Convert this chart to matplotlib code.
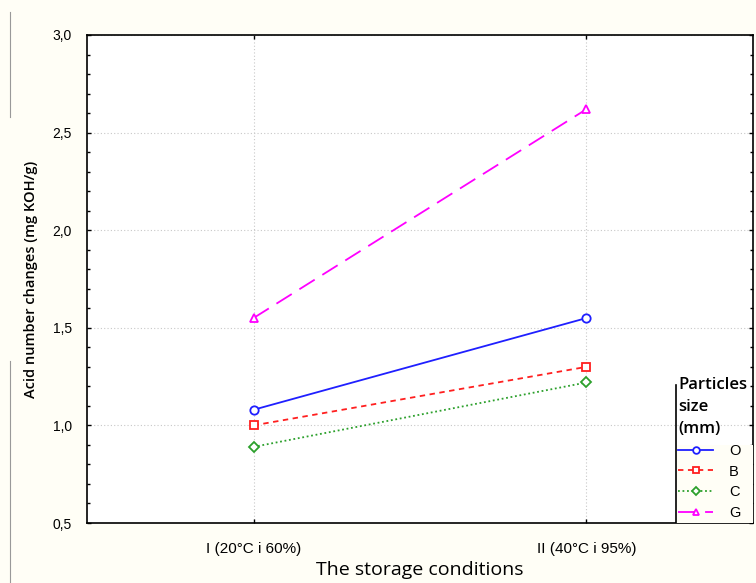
import numpy as np
import matplotlib.pyplot as plt
from matplotlib.lines import Line2D
from matplotlib.patches import Rectangle
from matplotlib.ticker import MultipleLocator, FuncFormatter

conditions = ["I (20°C i 60%)", "II (40°C i 95%)"]
sizes = ["O", "B", "C", "G"]
val_O = [1.08, 1.55]
val_B = [1.00, 1.30]
val_C = [0.89, 1.22]
val_G = [1.55, 2.62]

cream = '#fffef6'
fig = plt.figure(figsize=(7.56, 5.83), dpi=100, facecolor=cream)
ax = fig.add_axes([0.1151, 0.1029, 0.8809, 0.8371])
ax.set_facecolor('white')

x = np.arange(len(conditions))
ax.plot(x, val_O, color='#1f1fff', lw=1.3, ls='-', marker='o', ms=6,
        mfc='white', mec='#1f1fff', mew=1.3, label=sizes[0])
ax.plot(x, val_B, color='#ff1f1f', lw=1.3, ls=(0, (3, 2.5)), marker='s', ms=6,
        mfc='white', mec='#ff1f1f', mew=1.3, label=sizes[1])
ax.plot(x, val_C, color='#2ca02c', lw=1.3, ls=(0, (1, 1.5)), marker='D', ms=5,
        mfc='white', mec='#2ca02c', mew=1.3, label=sizes[2])
ax.plot(x, val_G, color='#ff00ff', lw=1.3, ls=(0, (10, 5)), marker='^', ms=6,
        mfc='white', mec='#ff00ff', mew=1.3, label=sizes[3])

ax.set_xlim(-0.5, 1.5)
ax.set_ylim(0.5, 3.0)
ax.set_xticks(x)
ax.set_xticklabels(conditions, family='Liberation Sans', fontsize=11)
ax.yaxis.set_major_locator(MultipleLocator(0.5))
ax.yaxis.set_minor_locator(MultipleLocator(0.1))
ax.yaxis.set_major_formatter(FuncFormatter(lambda v, p: ('%.1f' % v).replace('.', ',')))
for lab in ax.get_yticklabels():
    lab.set_family('Liberation Sans')
    lab.set_fontsize(10)
ax.tick_params(axis='both', which='both', direction='in', top=True, right=True,
               width=1.0, color='black')
ax.tick_params(axis='y', which='major', length=3, pad=11)
ax.tick_params(axis='y', which='minor', length=2)
ax.tick_params(axis='x', length=3, pad=14)
for s in ax.spines.values():
    s.set_linewidth(1.2)
ax.grid(True, color='#c8c8c8', ls=(0, (1, 2)), lw=0.8)

ax.set_ylabel('Acid number changes (mg KOH/g)', family='Open Sans', fontsize=10.5,
              fontweight='semibold', labelpad=10)
ax.set_xlabel('The storage conditions', family='Open Sans', fontsize=14, labelpad=3)

# legend panel in the lower right corner
ax.add_patch(Rectangle((0.884, 0.0), 0.116, 0.16, transform=ax.transAxes,
                       facecolor=cream, edgecolor='none', zorder=4))
leg = ax.legend(title='Particles\nsize\n(mm)', loc='lower left', bbox_to_anchor=(0.870, -0.017),
                frameon=False, prop={'family': 'Liberation Sans', 'size': 10.5},
                handlelength=2.4, labelspacing=0.45, borderpad=0.3, handletextpad=1.1,
                alignment='left', markerscale=0.8)
leg.set_zorder(6)
leg.get_title().set_family('Open Sans')
leg.get_title().set_fontsize(12)
leg.get_title().set_fontweight('semibold')
leg.get_title().set_linespacing(1.5)
ax.add_line(Line2D([0.884, 0.884], [0.0, 0.283], transform=ax.transAxes,
                   color='black', lw=1.2, zorder=7))

fig.add_artist(Line2D([0.013, 0.013], [0.80, 0.98], color='#999999', lw=0.8))
fig.add_artist(Line2D([0.013, 0.013], [0.0, 0.38], color='#999999', lw=0.8))

fig.savefig('out.png', dpi=100, facecolor=cream)
